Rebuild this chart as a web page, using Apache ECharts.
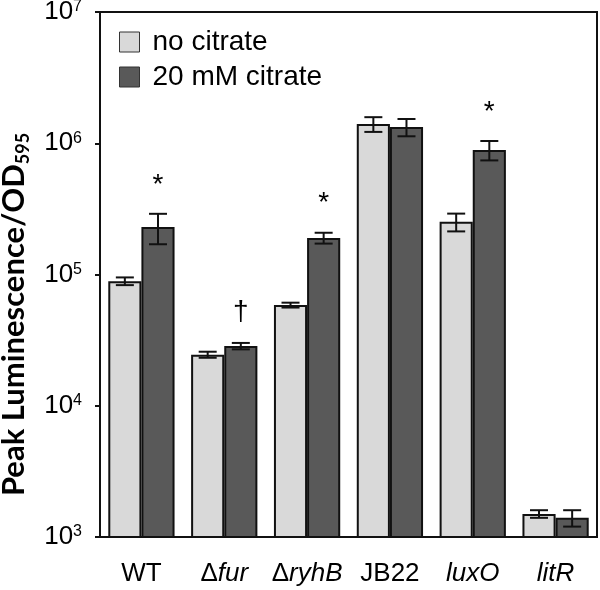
<!DOCTYPE html>
<html>
<head>
<meta charset="utf-8">
<script src="https://cdn.jsdelivr.net/npm/echarts@6/dist/echarts.min.js"></script>
<style>
html,body{margin:0;padding:0;background:#fff;}
#chart{width:600px;height:590px;}
</style>
</head>
<body>
<div id="chart"></div>
<script>
var categories = ['WT', 'Δfur', 'ΔryhB', 'JB22', 'luxO', 'litR'];
var italicNames = [false, true, true, false, true, true];
var seriesNames = ['no citrate', '20 mM citrate'];
var noCitrate = [89000, 24500, 58500, 1400000, 252000, 1500];
var noCitrateErr = [6000, 1300, 2500, 180000, 39000, 100];
var citrate = [230000, 28500, 190000, 1330000, 890000, 1400];
var citrateErr = [60000, 1600, 18000, 200000, 150000, 200];
var marks = ['*', '†', '*', '', '*', ''];
var yMin = 1000, yMax = 10000000;

var FONT = 'Liberation Sans, Arial, sans-serif';
var chart = echarts.init(document.getElementById('chart'));

function errData(vals, errs) {
  return vals.map(function (v, i) { return [i, v, errs[i]]; });
}

function makeErrRender(side, withMarks) {
  return function (params, api) {
    var i = api.value(0), v = api.value(1), e = api.value(2);
    var band = api.size([1, 0])[0];
    var center = api.coord([i, v]);
    var x = center[0] + side * band * 0.2;
    var top = api.coord([i, v + e])[1];
    var bot = api.coord([i, v - e])[1];
    var cap = 9;
    var st = { stroke: '#111', lineWidth: 2 };
    var children = [
      { type: 'line', shape: { x1: x, y1: top, x2: x, y2: bot }, style: st },
      { type: 'line', shape: { x1: x - cap, y1: top, x2: x + cap, y2: top }, style: st },
      { type: 'line', shape: { x1: x - cap, y1: bot, x2: x + cap, y2: bot }, style: st }
    ];
    var m = withMarks ? marks[params.dataIndex] : '';
    if (m) {
      children.push({
        type: 'text',
        style: {
          text: m, x: x, y: top - (m === '*' ? 29 : 31),
          textAlign: 'center', textVerticalAlign: 'middle',
          font: '28px ' + FONT, fill: '#000'
        }
      });
    }
    return { type: 'group', children: children };
  };
}

var option = {
  animation: false,
  backgroundColor: '#fff',
  grid: { left: 100, right: 3, top: 12, bottom: 53, show: true, borderColor: '#111', borderWidth: 2, containLabel: false, outerBoundsMode: 'none' },
  legend: {
    orient: 'vertical', left: 119, top: 28, padding: 0,
    itemWidth: 20, itemHeight: 20, itemGap: 7,
    icon: 'rect',
    itemStyle: { borderColor: '#333', borderWidth: 1 },
    textStyle: { fontFamily: FONT, fontSize: 28, color: '#000', padding: [0, 0, 0, 8] },
    data: seriesNames
  },
  xAxis: {
    type: 'category',
    data: categories,
    axisLine: { lineStyle: { color: '#111', width: 2 } },
    axisTick: { show: false },
    axisLabel: {
      interval: 0, hideOverlap: false,
      margin: 24, color: '#000', fontFamily: FONT, fontSize: 26,
      formatter: function (val, idx) {
        if (!italicNames[idx]) return '{n|' + val + '}';
        if (val.charAt(0) === 'Δ') return '{n|Δ}{i|' + val.slice(1) + '}';
        return '{i|' + val + '}';
      },
      rich: {
        n: { fontFamily: FONT, fontSize: 26, color: '#000' },
        i: { fontFamily: FONT, fontSize: 26, color: '#000', fontStyle: 'italic' }
      }
    }
  },
  yAxis: {
    type: 'log', logBase: 10, min: yMin, max: yMax,
    name: '{m|Peak Luminescence/OD}{s|595}',
    nameLocation: 'middle', nameRotate: 90, nameGap: 68,
    nameTextStyle: {
      padding: [0, 80, 0, 0],
      rich: {
        m: { fontFamily: 'Lato, Noto Sans, sans-serif', fontWeight: 'bold', fontSize: 31, color: '#000' },
        s: { fontFamily: 'Lato, Noto Sans, sans-serif', fontWeight: 'bold', fontSize: 18, color: '#000', padding: [18, 0, 0, 0] }
      }
    },
    axisLine: { show: true, lineStyle: { color: '#111', width: 2 } },
    axisTick: { show: true, length: 5, lineStyle: { color: '#111', width: 2 } },
    splitLine: { show: false },
    axisLabel: {
      margin: 18, color: '#000',
      formatter: function (v) {
        var e = Math.round(Math.log10(v));
        return '{b|10}{s|' + e + '}';
      },
      rich: {
        b: { fontFamily: FONT, fontSize: 26, color: '#000' },
        s: { fontFamily: FONT, fontSize: 16, color: '#000', padding: [0, 0, 10, 0] }
      }
    }
  },
  series: [
    {
      name: seriesNames[0], type: 'bar', data: noCitrate,
      barGap: '0%', barCategoryGap: '20%',
      itemStyle: { color: '#d9d9d9', borderColor: '#111', borderWidth: 2 }
    },
    {
      name: seriesNames[1], type: 'bar', data: citrate,
      barGap: '0%', barCategoryGap: '20%',
      itemStyle: { color: '#595959', borderColor: '#111', borderWidth: 2 }
    },
    {
      type: 'custom', renderItem: makeErrRender(-1, false),
      data: errData(noCitrate, noCitrateErr), z: 5, silent: true,
      encode: { x: 0, y: 1 }
    },
    {
      type: 'custom', renderItem: makeErrRender(1, true),
      data: errData(citrate, citrateErr), z: 5, silent: true,
      encode: { x: 0, y: 1 }
    }
  ]
};
chart.setOption(option);
</script>
</body>
</html>
